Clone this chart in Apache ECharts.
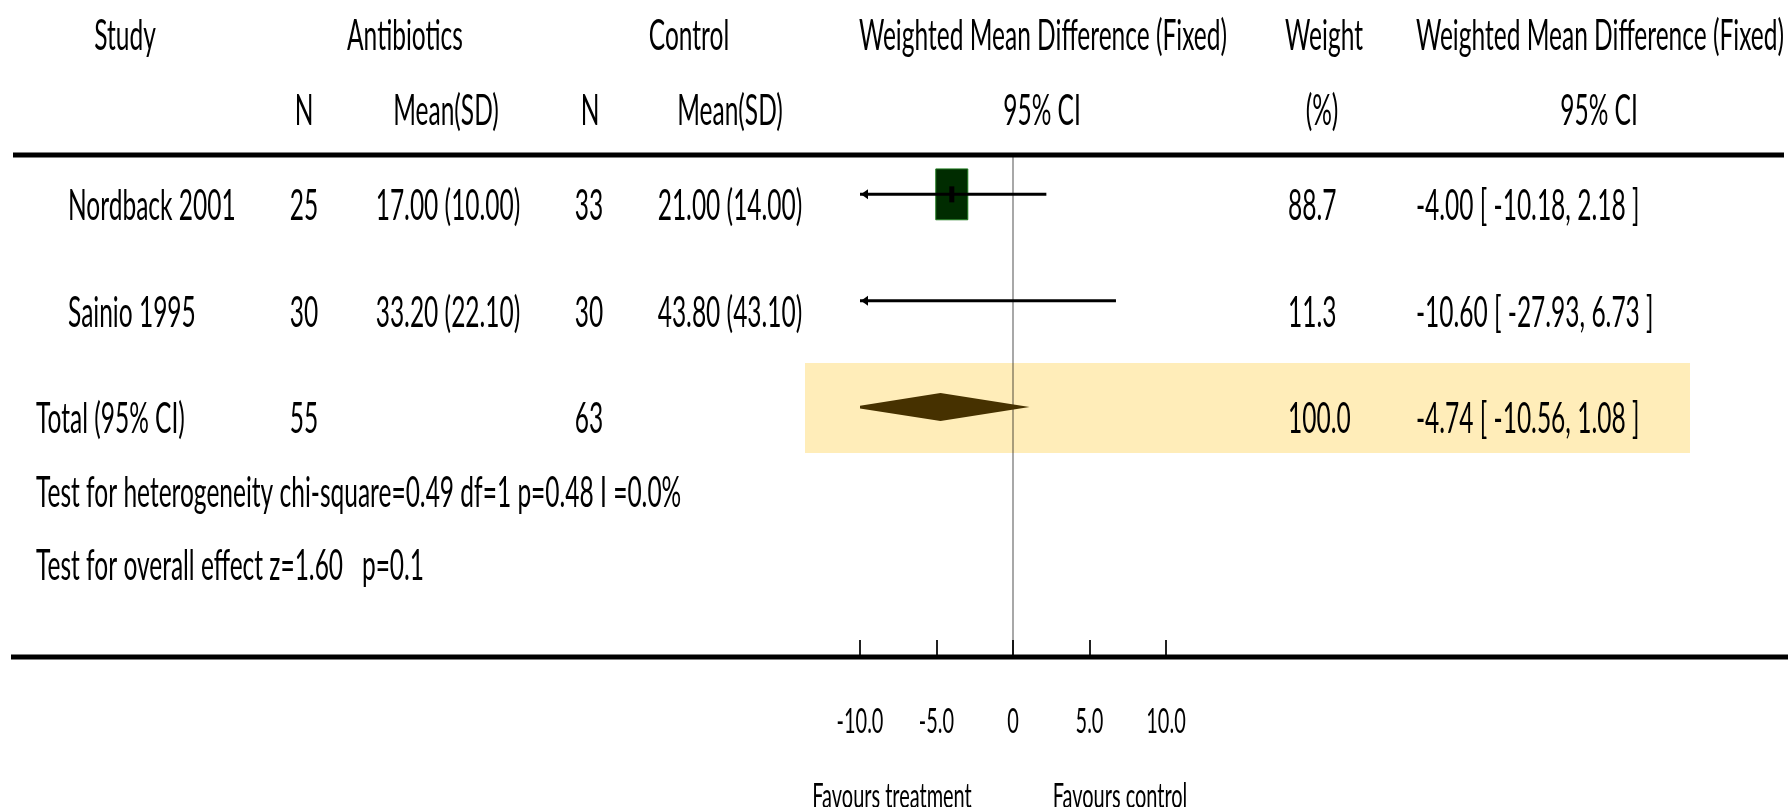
<!DOCTYPE html>
<html>
<head>
<meta charset="utf-8">
<script src="https://cdn.jsdelivr.net/npm/echarts@6/dist/echarts.min.js"></script>
<style>
  html, body { margin: 0; padding: 0; background: #fff; }
  #chart { width: 1788px; height: 807px; }
</style>
</head>
<body>
<div id="chart"></div>
<script>
// ---- Trials ----
const studies  = ['Nordback 2001', 'Sainio 1995'];
const antiN    = [25, 30];
const antiMean = [17.00, 33.20];
const antiSD   = [10.00, 22.10];
const ctrlN    = [33, 30];
const ctrlMean = [21.00, 43.80];
const ctrlSD   = [14.00, 43.10];
const weights  = [88.7, 11.3];
const wmd      = [-4.00, -10.60];
const ciLow    = [-10.18, -27.93];
const ciHigh   = [2.18, 6.73];

// ---- Pooled estimate ----
const totalLabel  = 'Total (95% CI)';
const totalN      = [55, 63];
const totalWeight = 100.0;
const totalWmd    = -4.74;
const totalLow    = -10.56;
const totalHigh   = 1.08;

// ---- Footnotes, axis and headers ----
const heterogeneityText = 'Test for heterogeneity chi-square=0.49 df=1 p=0.48 I =0.0%';
const overallText       = 'Test for overall effect z=1.60   p=0.1';
const xTicks      = [-10, -5, 0, 5, 10];
const xTickLabels = ['-10.0', '-5.0', '0', '5.0', '10.0'];
const favourLabels = ['Favours treatment', 'Favours control'];
const headerTop = ['Study', 'Antibiotics', 'Control', 'Weighted Mean Difference (Fixed)', 'Weight', 'Weighted Mean Difference (Fixed)'];
const headerSub = ['N', 'Mean(SD)', 'N', 'Mean(SD)', '95% CI', '(%)', '95% CI'];

// ---- Layout & style ----
const FONT = 'Lato';
const TEXT_SIZE = 43;
const SMALL_SIZE = 35;
const SQUEEZE = 0.57;            // narrow, tall lettering
const ROW_TEXT_DY = 12;          // table text sits a little below the plotted line
const COL = { study: 68, total: 36, antiN: 304, antiMean: 448, ctrlN: 589, ctrlMean: 730, weight: 1288, ci: 1416 };
const Y_MIN = -0.37, Y_MAX = 4.35;

const fmtMeanSD = (m, s) => m.toFixed(2) + ' (' + s.toFixed(2) + ')';
const fmtCI = (e, lo, hi) => e.toFixed(2) + ' [ ' + lo.toFixed(2) + ', ' + hi.toFixed(2) + ' ]';

function label(str, x, y, align, size) {
  const a = align || 'center';
  return {
    type: 'text', x: x, y: y, scaleX: SQUEEZE, silent: true,
    style: {
      text: str, fontFamily: FONT, fontSize: size || TEXT_SIZE, fill: '#000',
      align: a, textAlign: a, verticalAlign: 'middle', textVerticalAlign: 'middle'
    }
  };
}

// Table rows (one per study plus the pooled row)
const tableRows = studies.map((name, i) => [
  [name, COL.study, 'left'],
  [String(antiN[i]), COL.antiN, 'center'],
  [fmtMeanSD(antiMean[i], antiSD[i]), COL.antiMean, 'center'],
  [String(ctrlN[i]), COL.ctrlN, 'center'],
  [fmtMeanSD(ctrlMean[i], ctrlSD[i]), COL.ctrlMean, 'center'],
  [weights[i].toFixed(1), COL.weight, 'left'],
  [fmtCI(wmd[i], ciLow[i], ciHigh[i]), COL.ci, 'left']
]);
tableRows.push([
  [totalLabel, COL.total, 'left'],
  [String(totalN[0]), COL.antiN, 'center'],
  [String(totalN[1]), COL.ctrlN, 'center'],
  [totalWeight.toFixed(1), COL.weight, 'left'],
  [fmtCI(totalWmd, totalLow, totalHigh), COL.ci, 'left']
]);
const totalRow = studies.length;

const chart = echarts.init(document.getElementById('chart'), null, { renderer: 'canvas' });

const option = {
  animation: false,
  backgroundColor: '#fff',
  grid: { left: 860, width: 306, top: 155, bottom: 150, containLabel: false },
  xAxis: {
    type: 'value', min: -10, max: 10, interval: 5, position: 'bottom',
    axisLine: { show: false, onZero: false },
    axisTick: { show: true, inside: true, length: 17, lineStyle: { color: '#222', width: 2 } },
    axisLabel: { show: false },
    splitLine: { show: false }
  },
  yAxis: { type: 'value', inverse: true, min: Y_MIN, max: Y_MAX, show: false },
  series: [
    // highlighted band behind the pooled row
    {
      type: 'custom', name: 'band', clip: false, z: 1, silent: true,
      data: [[totalWmd, totalRow]],
      renderItem: (params, api) => {
        const c = api.coord([api.value(0), api.value(1)]);
        return { type: 'rect', shape: { x: 805, y: c[1] - 44, width: 885, height: 90 }, style: { fill: '#FFEDB9' } };
      }
    },
    // line of no effect
    {
      type: 'custom', name: 'zero', clip: false, z: 2, silent: true,
      data: [[0]],
      renderItem: (params, api) => {
        const a = api.coord([api.value(0), Y_MIN]);
        const b = api.coord([api.value(0), Y_MAX]);
        return { type: 'line', shape: { x1: a[0], y1: a[1], x2: b[0], y2: b[1] }, style: { stroke: 'rgba(0,0,0,0.34)', lineWidth: 2 } };
      }
    },
    // individual studies: box sized by weight, CI line and point marker
    {
      type: 'custom', name: 'studies', clip: true, z: 3, silent: true,
      data: studies.map((s, i) => [wmd[i], i, ciLow[i], ciHigh[i], weights[i]]),
      renderItem: (params, api) => {
        const est = api.value(0), row = api.value(1), lo = api.value(2), hi = api.value(3), w = api.value(4);
        const c = api.coord([est, row]);
        const l = api.coord([Math.max(lo, -10), row]);
        const r = api.coord([Math.min(hi, 10), row]);
        const bw = 3.4 * Math.sqrt(w), bh = 5.4 * Math.sqrt(w);
        const kids = [
          { type: 'rect', shape: { x: c[0] - bw / 2, y: c[1] - bh / 2, width: bw, height: bh },
            style: { fill: '#002c00', stroke: '#1f7a1f', lineWidth: 1 } },
          { type: 'line', shape: { x1: l[0], y1: l[1], x2: r[0], y2: r[1] }, style: { stroke: '#000', lineWidth: 3 } },
          { type: 'line', shape: { x1: c[0], y1: c[1] - 8, x2: c[0], y2: c[1] + 8 }, style: { stroke: '#000', lineWidth: 5 } }
        ];
        if (lo < -10) {
          kids.push({ type: 'polygon', shape: { points: [[l[0] + 1, l[1]], [l[0] + 8, l[1] - 5], [l[0] + 8, l[1] + 5]] }, style: { fill: '#000' } });
        }
        if (hi > 10) {
          kids.push({ type: 'polygon', shape: { points: [[r[0] - 1, r[1]], [r[0] - 8, r[1] - 5], [r[0] - 8, r[1] + 5]] }, style: { fill: '#000' } });
        }
        return { type: 'group', children: kids };
      }
    },
    // pooled diamond
    {
      type: 'custom', name: 'pooled', clip: true, z: 3, silent: true,
      data: [[totalWmd, totalRow, totalLow, totalHigh]],
      renderItem: (params, api) => {
        const c = api.coord([api.value(0), api.value(1)]);
        const l = api.coord([api.value(2), api.value(1)]);
        const r = api.coord([api.value(3), api.value(1)]);
        return { type: 'polygon', shape: { points: [[l[0], l[1]], [c[0], c[1] - 14], [r[0], r[1]], [c[0], c[1] + 14]] },
                 style: { fill: '#463100' } };
      }
    },
    // table cells aligned to each row
    {
      type: 'custom', name: 'table', clip: false, z: 5, silent: true,
      data: tableRows.map((r, i) => [0, i]),
      renderItem: (params, api) => {
        const y = api.coord([0, api.value(1)])[1] + ROW_TEXT_DY;
        return { type: 'group', children: tableRows[params.dataIndex].map(cell => label(cell[0], cell[1], y, cell[2])) };
      }
    },
    // tick labels under the axis
    {
      type: 'custom', name: 'ticks', clip: false, z: 5, silent: true,
      data: xTicks.map((v, i) => [v, i]),
      renderItem: (params, api) => {
        const p = api.coord([api.value(0), Y_MAX]);
        return label(xTickLabels[params.dataIndex], p[0], p[1] + 65, 'center', SMALL_SIZE);
      }
    }
  ],
  graphic: [
    { type: 'line', z: 10, silent: true, shape: { x1: 13, y1: 155, x2: 1784, y2: 155 }, style: { stroke: '#000', lineWidth: 5 } },
    { type: 'line', z: 10, silent: true, shape: { x1: 11, y1: 657, x2: 1788, y2: 657 }, style: { stroke: '#000', lineWidth: 5 } },
    label(headerTop[0], 125, 36),
    label(headerTop[1], 405, 36),
    label(headerTop[2], 689, 36),
    label(headerTop[3], 1043, 36),
    label(headerTop[4], 1324, 36),
    label(headerTop[5], 1600, 36),
    label(headerSub[0], 304, 111),
    label(headerSub[1], 446, 111),
    label(headerSub[2], 590, 111),
    label(headerSub[3], 730, 111),
    label(headerSub[4], 1042, 111),
    label(headerSub[5], 1322, 111),
    label(headerSub[6], 1599, 111),
    label(heterogeneityText, 36, 493, 'left'),
    label(overallText, 36, 566, 'left'),
    label(favourLabels[0], 892, 797, 'center', SMALL_SIZE),
    label(favourLabels[1], 1120, 797, 'center', SMALL_SIZE)
  ]
};

chart.setOption(option);
</script>
</body>
</html>
